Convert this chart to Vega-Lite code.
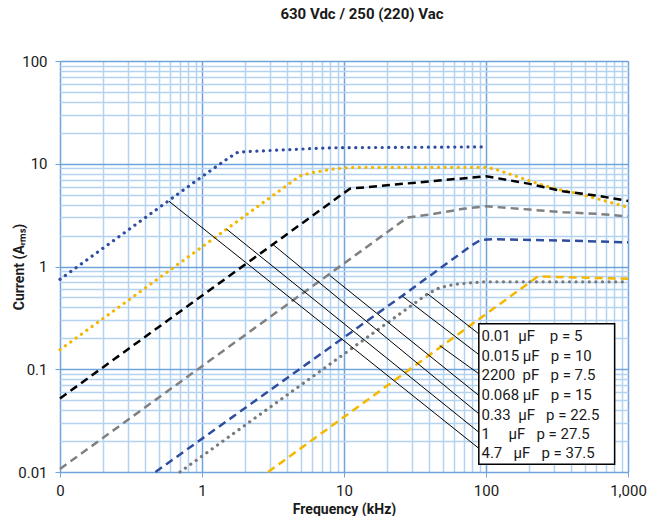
{
  "$schema": "https://vega.github.io/schema/vega-lite/v6.json",
  "description": "Permissible current vs frequency, 630 Vdc film capacitors",
  "width": 568,
  "height": 411,
  "autosize": {"type": "none"},
  "padding": {"left": 60, "top": 61, "right": 34, "bottom": 44},
  "background": "white",
  "title": {
    "text": "630 Vdc / 250 (220) Vac",
    "font": "Roboto",
    "fontSize": 15,
    "fontWeight": "bold",
    "color": "#1a1a1a",
    "frame": "group",
    "offset": 20,
    "baseline": "alphabetic",
    "dx": 18
  },
  "config": {"view": {"stroke": null}, "font": "Roboto"},
  "datasets": {
    "curves": [
      {"s": "4.7 µF", "f": 0.1, "i": 0.75},
      {"s": "4.7 µF", "f": 1, "i": 7.5},
      {"s": "4.7 µF", "f": 1.5, "i": 11.1},
      {"s": "4.7 µF", "f": 1.65, "i": 12.1},
      {"s": "4.7 µF", "f": 1.78, "i": 12.9},
      {"s": "4.7 µF", "f": 2, "i": 13.1},
      {"s": "4.7 µF", "f": 4, "i": 13.7},
      {"s": "4.7 µF", "f": 8, "i": 14.3},
      {"s": "4.7 µF", "f": 100, "i": 14.6},
      {"s": "1 µF", "f": 0.1, "i": 0.155},
      {"s": "1 µF", "f": 1, "i": 1.55},
      {"s": "1 µF", "f": 4.5, "i": 7.0},
      {"s": "1 µF", "f": 5, "i": 7.7},
      {"s": "1 µF", "f": 6, "i": 8.2},
      {"s": "1 µF", "f": 8, "i": 8.8},
      {"s": "1 µF", "f": 11, "i": 9.2},
      {"s": "1 µF", "f": 100, "i": 9.2},
      {"s": "1 µF", "f": 115, "i": 8.9},
      {"s": "1 µF", "f": 140, "i": 8.1},
      {"s": "1 µF", "f": 171, "i": 7.4},
      {"s": "1 µF", "f": 240, "i": 6.3},
      {"s": "1 µF", "f": 330, "i": 5.6},
      {"s": "1 µF", "f": 450, "i": 5.1},
      {"s": "1 µF", "f": 631, "i": 4.5},
      {"s": "1 µF", "f": 800, "i": 4.1},
      {"s": "1 µF", "f": 1000, "i": 3.78},
      {"s": "0.33 µF", "f": 0.1, "i": 0.052},
      {"s": "0.33 µF", "f": 11, "i": 5.72},
      {"s": "0.33 µF", "f": 100, "i": 7.56},
      {"s": "0.33 µF", "f": 203, "i": 6.37},
      {"s": "0.33 µF", "f": 348, "i": 5.4},
      {"s": "0.33 µF", "f": 600, "i": 4.9},
      {"s": "0.33 µF", "f": 1000, "i": 4.35},
      {"s": "0.068 µF", "f": 0.1, "i": 0.0107},
      {"s": "0.068 µF", "f": 28, "i": 3.0},
      {"s": "0.068 µF", "f": 40, "i": 3.2},
      {"s": "0.068 µF", "f": 69, "i": 3.64},
      {"s": "0.068 µF", "f": 100, "i": 3.86},
      {"s": "0.068 µF", "f": 203, "i": 3.58},
      {"s": "0.068 µF", "f": 348, "i": 3.37},
      {"s": "0.068 µF", "f": 600, "i": 3.26},
      {"s": "0.068 µF", "f": 1000, "i": 3.07},
      {"s": "0.015 µF", "f": 0.47, "i": 0.01},
      {"s": "0.015 µF", "f": 25.8, "i": 0.52},
      {"s": "0.015 µF", "f": 80, "i": 1.62},
      {"s": "0.015 µF", "f": 92, "i": 1.82},
      {"s": "0.015 µF", "f": 112, "i": 1.84},
      {"s": "0.015 µF", "f": 348, "i": 1.79},
      {"s": "0.015 µF", "f": 1000, "i": 1.72},
      {"s": "0.01 µF", "f": 0.7, "i": 0.01},
      {"s": "0.01 µF", "f": 38.7, "i": 0.54},
      {"s": "0.01 µF", "f": 47, "i": 0.62},
      {"s": "0.01 µF", "f": 60, "i": 0.67},
      {"s": "0.01 µF", "f": 85, "i": 0.7},
      {"s": "0.01 µF", "f": 100, "i": 0.71},
      {"s": "0.01 µF", "f": 1000, "i": 0.71},
      {"s": "2200 pF", "f": 2.92, "i": 0.01},
      {"s": "2200 pF", "f": 232, "i": 0.8},
      {"s": "2200 pF", "f": 1000, "i": 0.76}
    ],
    "leaders": [
      {"f": 38.7, "i": 0.543, "f2": 89, "i2": 0.221},
      {"f": 25.8, "i": 0.514, "f2": 89, "i2": 0.139},
      {"f": 47.2, "i": 0.17, "f2": 89, "i2": 0.0904},
      {"f": 7.94, "i": 0.818, "f2": 89, "i2": 0.0556},
      {"f": 3.17, "i": 1.63, "f2": 89, "i2": 0.0369},
      {"f": 1.49, "i": 2.31, "f2": 89, "i2": 0.0244},
      {"f": 0.585, "i": 4.32, "f2": 89, "i2": 0.017}
    ],
    "box": [
      {"f": 89, "i": 0.0119, "f2": 805, "i2": 0.277}
    ],
    "labels": [
      {"f": 92.9, "i": 0.213, "t": "0.01\u00a0\u00a0µF\u00a0\u00a0\u00a0\u00a0p = 5"},
      {"f": 92.9, "i": 0.136, "t": "0.015\u00a0µF\u00a0\u00a0\u00a0p = 10"},
      {"f": 92.9, "i": 0.0871, "t": "2200\u00a0\u00a0pF\u00a0\u00a0\u00a0p = 7.5"},
      {"f": 92.9, "i": 0.0556, "t": "0.068\u00a0µF\u00a0\u00a0\u00a0p = 15"},
      {"f": 92.9, "i": 0.0355, "t": "0.33\u00a0\u00a0µF\u00a0\u00a0\u00a0p = 22.5"},
      {"f": 92.9, "i": 0.0232, "t": "1\u00a0\u00a0\u00a0\u00a0\u00a0µF\u00a0\u00a0\u00a0p = 27.5"},
      {"f": 92.9, "i": 0.0152, "t": "4.7\u00a0\u00a0\u00a0µF\u00a0\u00a0\u00a0p = 37.5"}
    ]
  },
  "layer": [
    {
      "data": {"name": "curves"},
      "transform": [{"filter": {"field": "s", "oneOf": ["4.7 µF", "1 µF", "0.01 µF"]}}],
      "mark": {"type": "line", "strokeDash": [0.1, 6.5], "strokeCap": "round", "strokeWidth": 3.2},
      "encoding": {
        "x": {
          "field": "f",
          "type": "quantitative",
          "scale": {"type": "log", "domain": [0.1, 1000], "nice": false},
          "axis": {
            "values": [0.1, 0.2, 0.3, 0.4, 0.5, 0.6, 0.7, 0.8, 0.9, 1, 2, 3, 4, 5, 6, 7, 8, 9, 10, 20, 30, 40, 50, 60, 70, 80, 90, 100, 200, 300, 400, 500, 600, 700, 800, 900, 1000],
            "title": "Frequency (kHz)",
            "titleFont": "Roboto",
            "titleFontSize": 14,
            "titleFontWeight": "bold",
            "titleColor": "#1a1a1a",
            "titleY": 41,
            "titleBaseline": "alphabetic",
            "labelExpr": "abs(log(datum.value)/LN10 - round(log(datum.value)/LN10)) < 0.01 ? (datum.value < 1 ? '0' : format(datum.value, ',')) : ''",
            "labelFont": "Roboto",
            "labelFontSize": 15,
            "labelColor": "#1a1a1a",
            "labelPadding": 6,
            "labelFlush": false,
            "labelOverlap": false,
            "labelBound": false,
            "domain": false,
            "ticks": true,
            "tickSize": 5,
            "tickColor": "#6FA3DB",
            "tickOpacity": {"condition": {"test": "abs(log(datum.value)/LN10 - round(log(datum.value)/LN10)) < 0.01", "value": 1}, "value": 0},
            "grid": true,
            "gridColor": {"condition": {"test": "abs(log(datum.value)/LN10 - round(log(datum.value)/LN10)) < 0.01", "value": "#6FA3DB"}, "value": "#B5D3F0"},
            "gridWidth": 1.5,
            "gridOpacity": 1
          }
        },
        "y": {
          "field": "i",
          "type": "quantitative",
          "scale": {"type": "log", "domain": [0.01, 100], "nice": false},
          "axis": {
            "values": [0.01, 0.02, 0.03, 0.04, 0.05, 0.06, 0.07, 0.08, 0.09, 0.1, 0.2, 0.3, 0.4, 0.5, 0.6, 0.7, 0.8, 0.9, 1, 2, 3, 4, 5, 6, 7, 8, 9, 10, 20, 30, 40, 50, 60, 70, 80, 90, 100],
            "title": "Current (Aᵣₘₛ)",
            "titleFont": "Roboto",
            "titleFontSize": 14,
            "titleFontWeight": "bold",
            "titleColor": "#1a1a1a",
            "titleX": -37,
            "titleY": 205.5,
            "titleAngle": -90,
            "titleAlign": "center",
            "titleBaseline": "alphabetic",
            "labelExpr": "abs(log(datum.value)/LN10 - round(log(datum.value)/LN10)) < 0.01 ? format(datum.value, '~g') : ''",
            "labelFont": "Roboto",
            "labelFontSize": 15,
            "labelColor": "#1a1a1a",
            "labelPadding": 8,
            "labelOverlap": false,
            "labelBound": false,
            "labelFlush": false,
            "domain": false,
            "ticks": true,
            "tickSize": 5,
            "tickColor": "#6FA3DB",
            "tickOpacity": {"condition": {"test": "abs(log(datum.value)/LN10 - round(log(datum.value)/LN10)) < 0.01", "value": 1}, "value": 0},
            "grid": true,
            "gridColor": {"condition": {"test": "abs(log(datum.value)/LN10 - round(log(datum.value)/LN10)) < 0.01", "value": "#6FA3DB"}, "value": "#B5D3F0"},
            "gridWidth": 1.5,
            "gridOpacity": 1
          }
        },
        "color": {
          "field": "s",
          "type": "nominal",
          "scale": {
            "domain": ["4.7 µF", "1 µF", "0.33 µF", "0.068 µF", "0.015 µF", "0.01 µF", "2200 pF"],
            "range": ["#2F4D9E", "#F4B800", "#000000", "#808080", "#2F4D9E", "#7A7A7A", "#F4B800"]
          },
          "legend": null
        }
      }
    },
    {
      "data": {"name": "curves"},
      "transform": [{"filter": {"field": "s", "oneOf": ["0.33 µF", "0.068 µF", "0.015 µF", "2200 pF"]}}],
      "mark": {"type": "line", "strokeDash": [8, 5], "strokeWidth": 2.5},
      "encoding": {
        "x": {"field": "f", "type": "quantitative"},
        "y": {"field": "i", "type": "quantitative"},
        "color": {"field": "s", "type": "nominal", "legend": null}
      }
    },
    {
      "data": {"name": "leaders"},
      "mark": {"type": "rule", "color": "#000000", "strokeWidth": 1},
      "encoding": {
        "x": {"field": "f", "type": "quantitative"},
        "y": {"field": "i", "type": "quantitative"},
        "x2": {"field": "f2"},
        "y2": {"field": "i2"}
      }
    },
    {
      "data": {"name": "box"},
      "mark": {"type": "rect", "fill": "#ffffff", "stroke": "#000000", "strokeWidth": 1.5},
      "encoding": {
        "x": {"field": "f", "type": "quantitative"},
        "y": {"field": "i", "type": "quantitative"},
        "x2": {"field": "f2"},
        "y2": {"field": "i2"}
      }
    },
    {
      "data": {"name": "labels"},
      "mark": {"type": "text", "align": "left", "baseline": "middle", "font": "Roboto", "fontSize": 15, "color": "#1a1a1a"},
      "encoding": {
        "x": {"field": "f", "type": "quantitative"},
        "y": {"field": "i", "type": "quantitative"},
        "text": {"field": "t"}
      }
    }
  ]
}
